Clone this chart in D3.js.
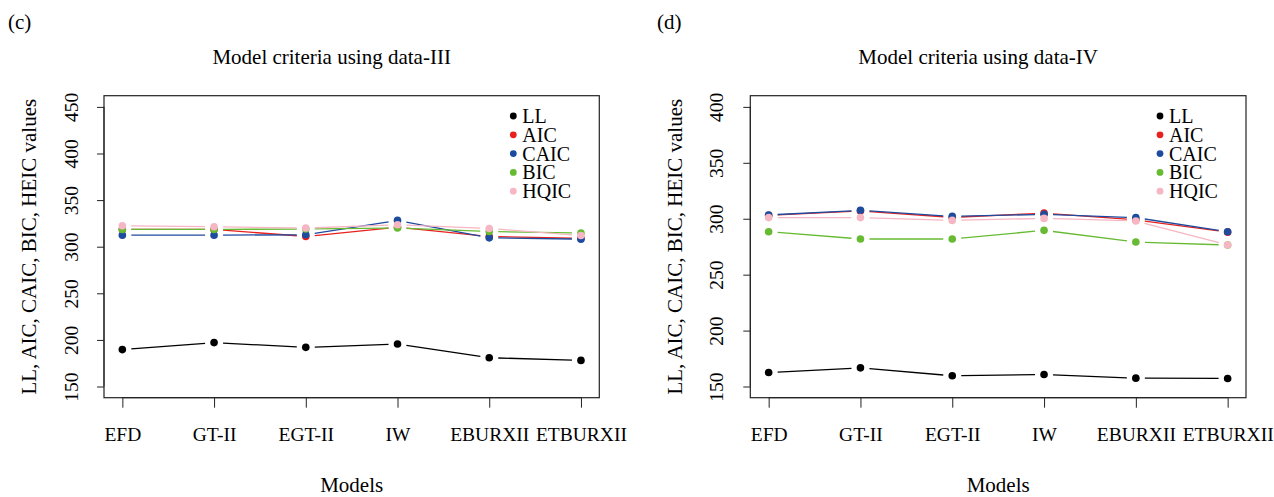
<!DOCTYPE html>
<html>
<head>
<meta charset="utf-8">
<script src="https://cdn.jsdelivr.net/npm/d3@7"></script>
<style>
  body { margin: 0; background: #fff; }
  svg, svg text { font-family: "Liberation Serif", "Times New Roman", serif; }
  svg { display: block; }
</style>
</head>
<body>
<script>
// models on the x axis
const models = ["EFD", "GT-II", "EGT-II", "IW", "EBURXII", "ETBURXII"];
const seriesNames = ["LL", "AIC", "CAIC", "BIC", "HQIC"];

// data-III
const data3LL   = [189.6, 197.1, 192.0, 195.6, 180.9, 178.0];
const data3AIC  = [318.5, 318.5, 311.0, 321.0, 311.0, 309.0];
const data3CAIC = [312.4, 312.4, 312.8, 328.2, 309.5, 308.1];
const data3BIC  = [318.5, 318.5, 319.0, 320.0, 316.3, 314.6];
const data3HQIC = [322.5, 321.4, 320.0, 323.6, 319.6, 312.0];
const ticks3 = [150, 200, 250, 300, 350, 400, 450];

// data-IV
const data4LL   = [162.5, 166.7, 159.6, 160.7, 157.5, 157.2];
const data4AIC  = [303.0, 307.0, 301.2, 305.0, 299.0, 288.0];
const data4CAIC = [303.4, 307.5, 302.1, 303.9, 301.0, 288.4];
const data4BIC  = [288.4, 281.9, 281.9, 289.6, 279.2, 276.5];
const data4HQIC = [301.0, 301.0, 298.5, 300.3, 298.0, 276.5];
const ticks4 = [150, 200, 250, 300, 350, 400];

const colors = ["#000000", "#e8201e", "#1d4b9e", "#66bb33", "#f6b6c3"];
const serif = "'Liberation Serif', 'Times New Roman', serif";

const W = 1274, H = 497;
const svg = d3.select("body").append("svg")
  .attr("width", W)
  .attr("height", H);

function panel(opt) {
  const top = 95.7, bottom = 397.7;
  const x = d3.scaleLinear().domain([0.8, 6.2]).range([opt.left, opt.right]);
  // R style 4% padding around ylim
  const pad = (opt.ylim[1] - opt.ylim[0]) * 0.04;
  const y = d3.scaleLinear().domain([opt.ylim[0] - pad, opt.ylim[1] + pad]).range([bottom, top]);
  const g = svg.append("g");

  // panel tag and title
  g.append("text").attr("x", opt.tagX).attr("y", 29)
    .style("font-size", "21px").text(opt.tag);
  g.append("text").attr("x", (opt.left + opt.right) / 2 - 20).attr("y", 64)
    .attr("text-anchor", "middle").style("font-size", "21px").text(opt.title);

  // box
  g.append("rect").attr("x", opt.left).attr("y", top)
    .attr("width", opt.right - opt.left).attr("height", bottom - top)
    .attr("fill", "none").attr("stroke", "#222").attr("stroke-width", 1.2);

  // x axis
  const xa = g.append("g").attr("transform", `translate(0,${bottom})`)
    .call(d3.axisBottom(x).tickValues(d3.range(1, 7)).tickSize(10).tickPadding(0)
      .tickFormat(d => models[d - 1]))
    .attr("font-family", serif).attr("font-size", null);
  xa.select(".domain").attr("d", `M${x(1)},0H${x(6)}`).attr("stroke", "#222");
  xa.selectAll(".tick line").attr("stroke", "#222");
  xa.selectAll(".tick text").attr("y", 43.3).attr("dy", 0)
    .style("font-family", serif).style("font-size", "19.5px").attr("fill", "#000");

  // y axis with rotated labels
  const ya = g.append("g").attr("transform", `translate(${opt.left},0)`)
    .call(d3.axisLeft(y).tickValues(opt.ticks).tickSize(7))
    .attr("font-family", serif).attr("font-size", null);
  ya.select(".domain").attr("d", `M0,${y(opt.ticks[0])}V${y(opt.ticks[opt.ticks.length - 1])}`).attr("stroke", "#222");
  ya.selectAll(".tick line").attr("stroke", "#222");
  ya.selectAll(".tick text")
    .attr("x", null).attr("dy", null)
    .attr("text-anchor", "middle")
    .attr("transform", `translate(${opt.ylabOff},0) rotate(-90)`)
    .style("font-family", serif).style("font-size", "19.5px").attr("fill", "#000");

  // axis titles
  g.append("text")
    .attr("transform", `translate(${opt.left - 68},${(top + bottom) / 2}) rotate(-90)`)
    .attr("text-anchor", "middle").style("font-size", "21px")
    .text("LL, AIC, CAIC, BIC, HEIC values");
  g.append("text").attr("x", (opt.left + opt.right) / 2).attr("y", 492)
    .attr("text-anchor", "middle").style("font-size", "21px").text("Models");

  // series: lines with gaps around points (type = "b")
  const gap = 9;
  opt.series.forEach((vals, si) => {
    const pts = vals.map((v, i) => [x(i + 1), y(v)]);
    const segs = d3.pairs(pts).map(([a, b]) => {
      const dx = b[0] - a[0], dy = b[1] - a[1];
      const len = Math.hypot(dx, dy);
      const ux = dx / len, uy = dy / len;
      return [[a[0] + ux * gap, a[1] + uy * gap], [b[0] - ux * gap, b[1] - uy * gap]];
    });
    g.append("g").selectAll("line").data(segs).join("line")
      .attr("x1", d => d[0][0]).attr("y1", d => d[0][1])
      .attr("x2", d => d[1][0]).attr("y2", d => d[1][1])
      .attr("stroke", colors[si]).attr("stroke-width", 1.3);
    g.append("g").selectAll("circle").data(pts).join("circle")
      .attr("cx", d => d[0]).attr("cy", d => d[1]).attr("r", 3.8)
      .attr("fill", colors[si]);
  });

  // legend
  const lg = g.append("g");
  seriesNames.forEach((name, i) => {
    const ly = 116 + i * 18.8;
    lg.append("circle").attr("cx", opt.right - 86).attr("cy", ly).attr("r", 3.4).attr("fill", colors[i]);
    lg.append("text").attr("x", opt.right - 77).attr("y", ly + 7)
      .style("font-size", "20px").text(name);
  });
}

panel({
  left: 104, right: 599.3, ylim: [150, 450], ticks: ticks3, ylabOff: -26,
  tag: "(c)", tagX: 8, title: "Model criteria using data-III",
  series: [data3LL, data3AIC, data3CAIC, data3BIC, data3HQIC]
});

panel({
  left: 750.3, right: 1246, ylim: [150, 400], ticks: ticks4, ylabOff: -27,
  tag: "(d)", tagX: 657, title: "Model criteria using data-IV",
  series: [data4LL, data4AIC, data4CAIC, data4BIC, data4HQIC]
});
</script>
</body>
</html>
